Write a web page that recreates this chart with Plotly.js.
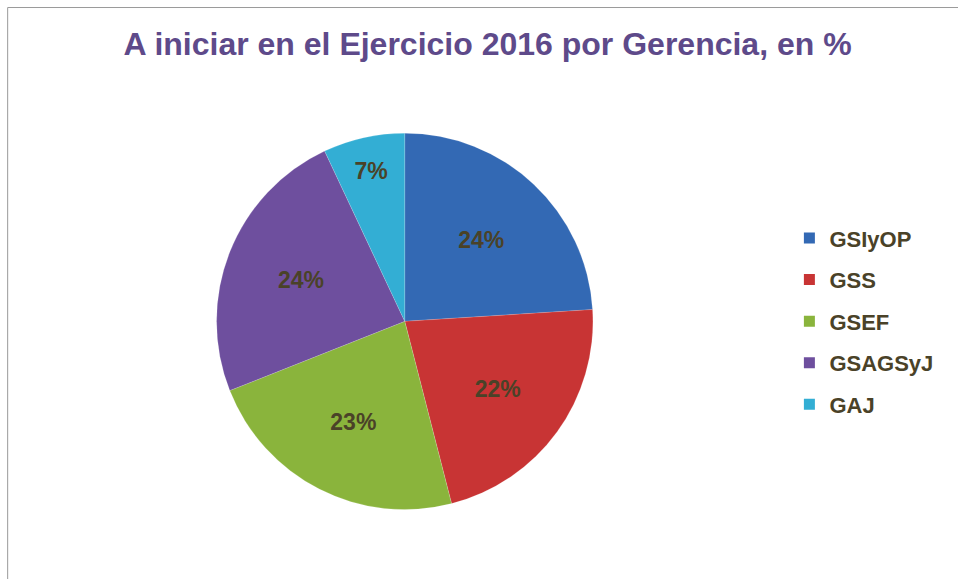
<!DOCTYPE html>
<html>
<head>
<meta charset="utf-8">
<script src="https://cdn.plot.ly/plotly-3.0.1.min.js"></script>
<style>html,body{margin:0;padding:0;background:#fff;}#chart{width:958px;height:579px;}</style>
</head>
<body>
<div id="chart"></div>
<script>
const categories = ["GSIyOP", "GSS", "GSEF", "GSAGSyJ", "GAJ"];
const values = [24, 22, 23, 24, 7];
const colors = ["#3369B4", "#C83434", "#8AB43C", "#6E4F9E", "#33AED4"];
const titleText = "A iniciar en el Ejercicio 2016 por Gerencia, en %";

const labelFont = {family: "Liberation Sans, Arial, sans-serif", size: 23, color: "#4A4228", weight: "bold"};

const pie = {
  type: "pie",
  labels: categories,
  values: values,
  sort: false,
  direction: "clockwise",
  rotation: 0,
  marker: {colors: colors, line: {color: "rgba(255,255,255,0.3)", width: 0.5}},
  texttemplate: "<b>%{value}%</b>",
  textposition: "inside",
  insidetextorientation: "horizontal",
  textfont: labelFont,
  domain: {x: [0.21, 0.635], y: [0.12, 0.77]},
  showlegend: false,
  hoverinfo: "label+value"
};

const legendTraces = categories.map((c, i) => ({
  type: "scatter",
  x: [null], y: [null],
  mode: "markers",
  name: c,
  legendgroup: c,
  marker: {symbol: "square", size: 11, color: colors[i]},
  xaxis: "x", yaxis: "y",
  hoverinfo: "skip"
}));

const layout = {
  width: 958, height: 579,
  margin: {l: 0, r: 0, t: 0, b: 0},
  paper_bgcolor: "#fff", plot_bgcolor: "rgba(0,0,0,0)",
  title: {
    text: "<b>" + titleText + "</b>",
    font: {family: "Liberation Sans, Arial, sans-serif", size: 32, color: "#5E4A8A"},
    x: 0.509, xanchor: "center", y: 0.925, yanchor: "middle"
  },
  xaxis: {visible: false, domain: [0.9, 0.91]},
  yaxis: {visible: false, domain: [0.9, 0.91]},
  legend: {
    x: 0.824, y: 0.625, xanchor: "left", yanchor: "top",
    font: {family: "Liberation Sans, Arial, sans-serif", size: 22, color: "#4A4228", weight: "bold"},
    tracegroupgap: 10,
    itemwidth: 30,
    bgcolor: "rgba(0,0,0,0)"
  },
  shapes: [
    {type: "line", xref: "paper", yref: "paper", x0: 0.008, x1: 0.008, y0: 0, y1: 0.987, line: {color: "#9A9A9A", width: 1}},
    {type: "line", xref: "paper", yref: "paper", x0: 0.008, x1: 1, y0: 0.987, y1: 0.987, line: {color: "#9A9A9A", width: 1}}
  ],
  showlegend: true
};

Plotly.newPlot("chart", [pie].concat(legendTraces), layout, {displayModeBar: false, staticPlot: true});
</script>
</body>
</html>
